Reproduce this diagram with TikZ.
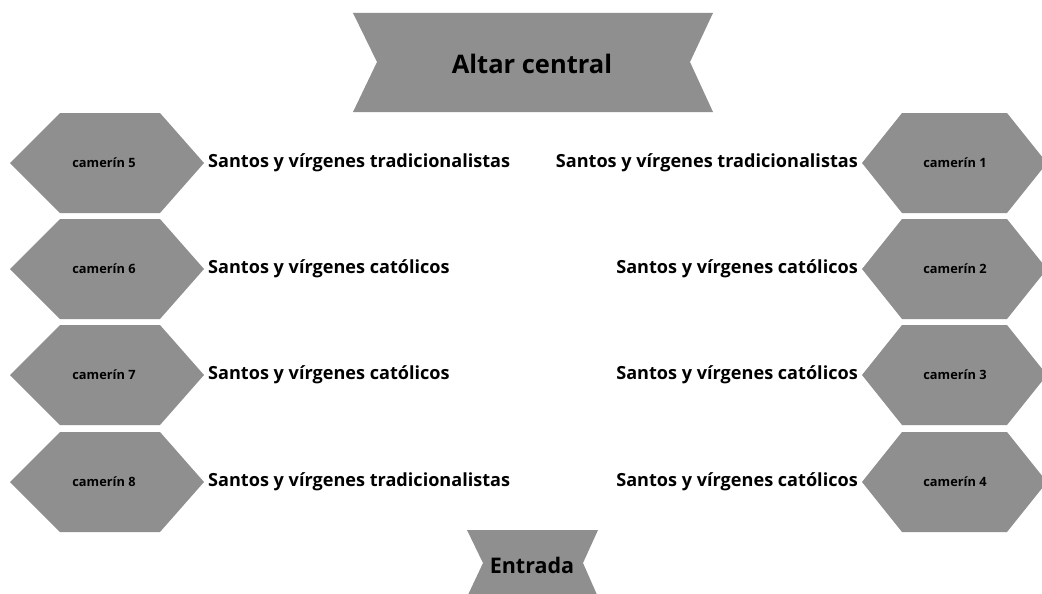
\documentclass[tikz,border=0pt]{standalone}
\usepackage{fontspec}
\setmainfont{Open Sans}
\definecolor{shapegray}{HTML}{8F8F8F}
\tikzset{
  shp/.style={fill=shapegray},
  lbl/.style={font=\bfseries\fontsize{18.1}{21}\selectfont, inner sep=0pt},
  cam/.style={font=\bfseries\fontsize{12.8}{15}\selectfont, inner sep=0pt},
  ttl/.style={font=\bfseries\fontsize{25.5}{30}\selectfont, inner sep=0pt}
}
\begin{document}
\begin{tikzpicture}[x=1pt,y=-1pt]
\useasboundingbox (0,0) rectangle (1042,594);
\fill[white] (0,0) rectangle (1042,594);
% top banner
\fill[shp] (353,13) -- (713,13) -- (690,62) -- (713,112) -- (353,112) -- (377,62) -- cycle;
\node[ttl] (altar) at (532,64) {Altar central};
% left column
\foreach \y/\n/\t in {163/5/tradicionalistas, 269/6/católicos, 375/7/católicos, 482/8/tradicionalistas} {
  \fill[shp] (10,\y) -- (60,{\y-50}) -- (160,{\y-50}) -- (204,\y) -- (160,{\y+50}) -- (60,{\y+50}) -- cycle;
  \node[cam] (cam\n) at (104,\y) {camerín \n};
  \node[lbl, anchor=west] (txt\n) at (208,\y) {Santos y vírgenes \t};
}
% right column
\foreach \y/\n/\t in {163/1/tradicionalistas, 269/2/católicos, 375/3/católicos, 482/4/católicos} {
  \fill[shp] (862,\y) -- (902,{\y-50}) -- (1007,{\y-50}) -- (1047,\y) -- (1007,{\y+50}) -- (902,{\y+50}) -- cycle;
  \node[cam] (cam\n) at (955,\y) {camerín \n};
  \node[lbl, anchor=east] (txt\n) at (858,\y) {Santos y vírgenes \t};
}
% entrance banner
\fill[shp] (467,530) -- (598,530) -- (583,563) -- (598,597) -- (467,597) -- (483,563) -- cycle;
\node[ttl, font=\bfseries\fontsize{21.5}{25}\selectfont] (entrada) at (532,565) {Entrada};
\end{tikzpicture}
\end{document}
